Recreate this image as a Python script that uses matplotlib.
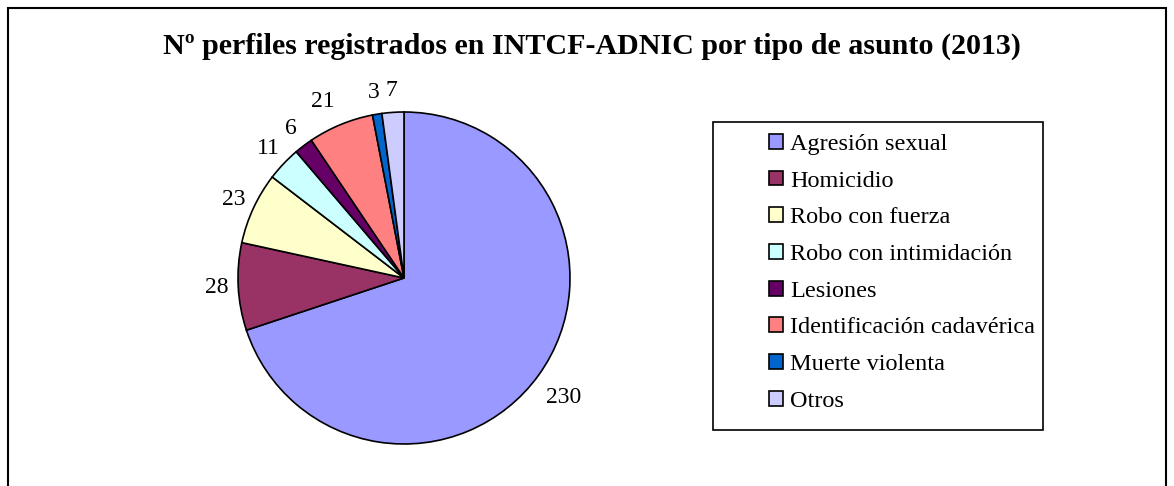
import matplotlib
matplotlib.use('Agg')
import matplotlib.pyplot as plt
from matplotlib.patches import Rectangle

# data
categorias = ['Agresión sexual', 'Homicidio', 'Robo con fuerza', 'Robo con intimidación',
              'Lesiones', 'Identificación cadavérica', 'Muerte violenta', 'Otros']
perfiles = [230, 28, 23, 11, 6, 21, 3, 7]
colores = ['#9999FF', '#993366', '#FFFFCC', '#CCFFFF', '#660066', '#FF8080', '#0066CC', '#CCCCFF']
titulo = 'Nº perfiles registrados en INTCF-ADNIC por tipo de asunto (2013)'

plt.rcParams['font.family'] = ['Liberation Serif', 'DejaVu Serif']

W, H = 1174, 486
fig = plt.figure(figsize=(W / 100, H / 100), dpi=100)

# outer chart frame (bottom edge is cut off in the reference)
fig.patches.append(Rectangle((8 / W, -0.02), (1166 - 8) / W, 1.02 - 8 / H,
                             transform=fig.transFigure, fill=False,
                             edgecolor='black', linewidth=1.5))

fig.text(592 / W, 1 - 54 / H, titulo, ha='center', va='baseline',
         fontsize=21.6, fontweight='bold')

# pie: centre (404,278), radius 166 px
cx, cy, r = 404, 278, 166
ax = fig.add_axes([(cx - r) / W, (H - cy - r) / H, 2 * r / W, 2 * r / H])
wedges, texts = ax.pie(perfiles, labels=[str(v) for v in perfiles], colors=colores,
                       startangle=90, counterclock=False, labeldistance=1.13,
                       wedgeprops=dict(edgecolor='black', linewidth=1.2),
                       textprops=dict(fontsize=17))
for t in texts:
    t.set_ha('center')
    t.set_va('center')
# excel-ish nudges for a couple of labels
texts[0].set_position((texts[0].get_position()[0] + 0.045, texts[0].get_position()[1] - 0.06))
texts[5].set_position((texts[5].get_position()[0] - 0.06, texts[5].get_position()[1] + 0.02))
ax.set_xlim(-1, 1)
ax.set_ylim(-1, 1)
ax.set_aspect('equal')
ax.axis('off')

# legend box
fig.patches.append(Rectangle((713 / W, 1 - 430 / H), (1043 - 713) / W, (430 - 122) / H,
                             transform=fig.transFigure, fill=False,
                             edgecolor='black', linewidth=1.2))
leg = fig.legend(wedges, categorias, loc='upper left',
                 bbox_to_anchor=(769 / W, 1 - 134 / H), frameon=False,
                 fontsize=17.5, handlelength=0.56, handleheight=0.56,
                 handletextpad=0.3, labelspacing=0.645, borderpad=0, borderaxespad=0)

plt.savefig('out.png', dpi=100)
